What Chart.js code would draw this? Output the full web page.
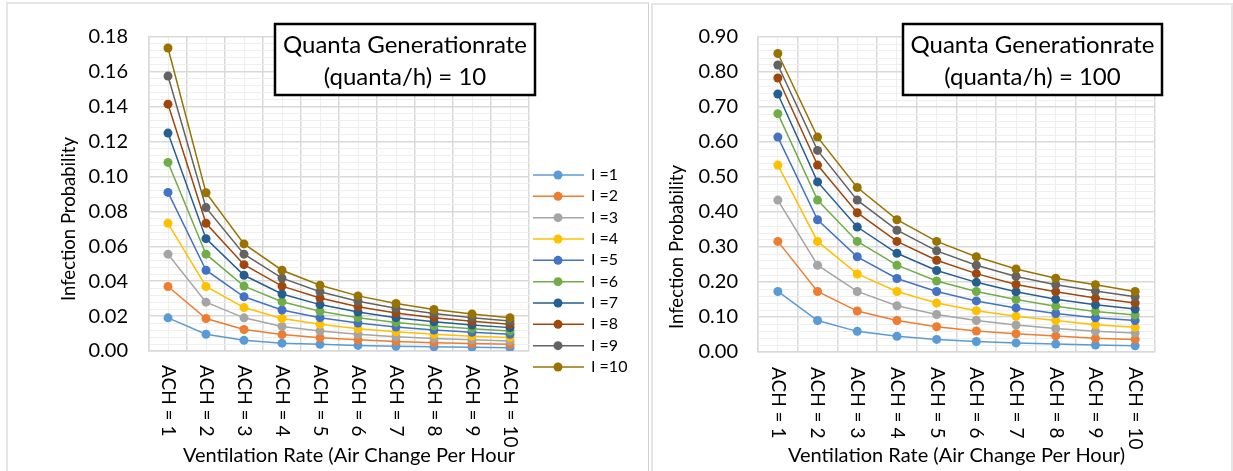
<!DOCTYPE html>
<html>
<head>
<meta charset="utf-8">
<script src="https://cdn.jsdelivr.net/npm/chart.js@4.4.1/dist/chart.umd.min.js"></script>
<style>
  body { margin: 0; background: #fff; width: 1233px; height: 471px; overflow: hidden; position: relative; }
  .panel { position: absolute; box-sizing: border-box; border: 2px solid #e6e6e6; }
  #panel-low { left: 6px; top: 2px; width: 643px; height: 490px; border-right: 1px solid #d0d0d0; }
  #panel-high { left: 651px; top: 3px; width: 582px; height: 490px; }
  canvas { position: absolute; }
  #chart-low { left: 8px; top: 4px; }
  #chart-high { left: 653px; top: 5px; }
</style>
</head>
<body>
<div class="panel" id="panel-low"></div>
<div class="panel" id="panel-high"></div>
<canvas id="chart-low" width="640" height="467"></canvas>
<canvas id="chart-high" width="578" height="466"></canvas>
<script>
const FONT = 'Lato, "Liberation Sans", sans-serif';
const TEXT = '#000';

const ventilationLabels = ['ACH = 1', 'ACH = 2', 'ACH = 3', 'ACH = 4', 'ACH = 5',
  'ACH = 6', 'ACH = 7', 'ACH = 8', 'ACH = 9', 'ACH = 10'];
const seriesNames = ['I =1', 'I =2', 'I =3', 'I =4', 'I =5', 'I =6', 'I =7', 'I =8', 'I =9', 'I =10'];
const seriesColors = ['#5b9bd5', '#ed7d31', '#a5a5a5', '#ffc000', '#4472c4',
  '#70ad47', '#255e91', '#9e480e', '#636363', '#997300'];

// quanta generation rate = 10
const q10I1 = [0.0190, 0.0096, 0.0061, 0.0045, 0.0038, 0.0032, 0.0027, 0.0024, 0.0021, 0.0019];
const q10I2 = [0.0370, 0.0186, 0.0123, 0.0094, 0.0076, 0.0064, 0.0055, 0.0048, 0.0043, 0.0038];
const q10I3 = [0.0555, 0.0280, 0.0190, 0.0141, 0.0115, 0.0096, 0.0082, 0.0072, 0.0064, 0.0058];
const q10I4 = [0.0732, 0.0370, 0.0249, 0.0186, 0.0153, 0.0128, 0.0110, 0.0096, 0.0085, 0.0077];
const q10I5 = [0.0909, 0.0463, 0.0311, 0.0235, 0.0191, 0.0160, 0.0137, 0.0120, 0.0107, 0.0096];
const q10I6 = [0.1081, 0.0555, 0.0372, 0.0282, 0.0228, 0.0191, 0.0164, 0.0144, 0.0128, 0.0115];
const q10I7 = [0.1249, 0.0644, 0.0434, 0.0327, 0.0266, 0.0223, 0.0191, 0.0167, 0.0149, 0.0134];
const q10I8 = [0.1415, 0.0732, 0.0495, 0.0372, 0.0304, 0.0254, 0.0218, 0.0191, 0.0170, 0.0153];
const q10I9 = [0.1576, 0.0822, 0.0555, 0.0418, 0.0340, 0.0285, 0.0245, 0.0215, 0.0191, 0.0172];
const q10I10 = [0.1737, 0.0907, 0.0614, 0.0463, 0.0377, 0.0316, 0.0272, 0.0238, 0.0212, 0.0191];

// quanta generation rate = 100
const q100I1 = [0.173, 0.090, 0.059, 0.045, 0.036, 0.030, 0.026, 0.023, 0.020, 0.018];
const q100I2 = [0.316, 0.173, 0.117, 0.090, 0.072, 0.060, 0.052, 0.046, 0.039, 0.036];
const q100I3 = [0.434, 0.248, 0.173, 0.132, 0.107, 0.090, 0.077, 0.067, 0.059, 0.054];
const q100I4 = [0.534, 0.316, 0.223, 0.173, 0.140, 0.118, 0.102, 0.090, 0.078, 0.071];
const q100I5 = [0.614, 0.378, 0.272, 0.210, 0.173, 0.146, 0.126, 0.110, 0.098, 0.090];
const q100I6 = [0.681, 0.434, 0.316, 0.248, 0.203, 0.173, 0.150, 0.131, 0.116, 0.106];
const q100I7 = [0.737, 0.486, 0.357, 0.282, 0.233, 0.199, 0.172, 0.151, 0.135, 0.123];
const q100I8 = [0.783, 0.534, 0.398, 0.316, 0.262, 0.224, 0.193, 0.172, 0.154, 0.140];
const q100I9 = [0.820, 0.576, 0.434, 0.348, 0.289, 0.248, 0.216, 0.192, 0.174, 0.158];
const q100I10 = [0.853, 0.614, 0.470, 0.378, 0.316, 0.272, 0.237, 0.211, 0.192, 0.173];

const q10Ticks = [0, 0.02, 0.04, 0.06, 0.08, 0.10, 0.12, 0.14, 0.16, 0.18];
const q100Ticks = [0, 0.1, 0.2, 0.3, 0.4, 0.5, 0.6, 0.7, 0.8, 0.9];

const MAJOR_GRID = '#d9d9d9';
const MINOR_GRID = '#eeeeee';

// draws the Excel-style extras: rotated category labels, titles, note box, legend
const overlay = {
  id: 'overlay',
  afterDraw(chart) {
    const cfg = chart.options.plugins.overlay;
    const { ctx, chartArea, scales } = chart;
    ctx.save();
    ctx.fillStyle = TEXT;

    ctx.font = `19px ${FONT}`;
    ctx.textAlign = 'left';
    ctx.textBaseline = 'middle';
    ventilationLabels.forEach((label, i) => {
      ctx.save();
      ctx.translate(scales.x.getPixelForValue(i), chartArea.bottom + cfg.labelGap);
      ctx.rotate(Math.PI / 2);
      ctx.fillText(label, 0, 0);
      ctx.restore();
    });

    ctx.font = `20px ${FONT}`;
    ctx.textAlign = 'center';
    ctx.fillText(cfg.xTitle, (chartArea.left + chartArea.right) / 2 + cfg.xTitleShift, cfg.xTitleY);

    ctx.font = `18.5px ${FONT}`;
    ctx.save();
    ctx.translate(cfg.yTitleX, cfg.yTitleY);
    ctx.rotate(-Math.PI / 2);
    ctx.fillText('Infection Probability', 0, 0);
    ctx.restore();

    const b = cfg.box;
    ctx.fillStyle = '#fff';
    ctx.fillRect(b.x, b.y, b.w, b.h);
    ctx.strokeStyle = '#000';
    ctx.lineWidth = 2.5;
    ctx.strokeRect(b.x, b.y, b.w, b.h);
    ctx.fillStyle = '#000';
    ctx.font = `24px ${FONT}`;
    ctx.fillText('Quanta Generationrate', b.x + b.w / 2, b.y + 21);
    ctx.fillText(cfg.boxLine2, b.x + b.w / 2, b.y + 53);

    if (cfg.legend) {
      const lg = cfg.legend;
      ctx.font = `16px ${FONT}`;
      ctx.textAlign = 'left';
      chart.data.datasets.forEach((ds, i) => {
        const y = lg.top + i * lg.step;
        ctx.strokeStyle = ds.borderColor;
        ctx.lineWidth = 1.5;
        ctx.beginPath();
        ctx.moveTo(lg.x, y);
        ctx.lineTo(lg.x + 51, y);
        ctx.stroke();
        ctx.fillStyle = ds.borderColor;
        ctx.beginPath();
        ctx.arc(lg.x + 25, y, 4.5, 0, Math.PI * 2);
        ctx.fill();
        ctx.fillStyle = TEXT;
        ctx.fillText(ds.label, lg.x + 58, y);
      });
    }
    ctx.restore();
  }
};

function buildChart(canvasId, seriesValues, majorTicks, geo) {
  const minorStep = (majorTicks[1] - majorTicks[0]) / 5;
  const datasets = seriesValues.map((values, i) => ({
    label: seriesNames[i],
    data: values,
    borderColor: seriesColors[i],
    backgroundColor: seriesColors[i],
    pointBackgroundColor: seriesColors[i],
    pointBorderWidth: 0,
    pointRadius: 4.5,
    borderWidth: 1.5,
    order: seriesValues.length - i
  }));

  return new Chart(document.getElementById(canvasId), {
    type: 'line',
    data: { labels: ventilationLabels, datasets },
    options: {
      responsive: false,
      animation: false,
      layout: { padding: { top: geo.top, right: geo.right, left: 0, bottom: 0 } },
      plugins: {
        legend: { display: false },
        tooltip: { enabled: false },
        overlay: geo.overlay
      },
      scales: {
        x: {
          type: 'category',
          offset: true,
          ticks: { display: false },
          grid: { offset: true, color: MAJOR_GRID, lineWidth: 1.5, drawTicks: false },
          border: { color: MAJOR_GRID, width: 1.5 },
          afterFit: (s) => { s.height = geo.xHeight; }
        },
        xMinor: {
          type: 'category',
          position: 'bottom',
          offset: true,
          ticks: { display: false },
          grid: { offset: false, color: MINOR_GRID, lineWidth: 1, drawTicks: false },
          border: { display: false },
          afterFit: (s) => { s.height = 0; }
        },
        y: {
          min: majorTicks[0],
          max: majorTicks[majorTicks.length - 1],
          afterBuildTicks: (s) => {
            const ticks = [];
            for (let m = 0; m < majorTicks.length; m++) {
              ticks.push({ value: majorTicks[m], major: true });
              if (m < majorTicks.length - 1) {
                for (let k = 1; k < 5; k++) ticks.push({ value: majorTicks[m] + k * minorStep });
              }
            }
            s.ticks = ticks;
          },
          ticks: {
            autoSkip: false,
            padding: geo.labelPad,
            color: TEXT,
            font: { family: FONT, size: 20 },
            callback: (value, index) => (index % 5 === 0 ? value.toFixed(2) : '')
          },
          grid: {
            drawTicks: false,
            color: (c) => (c.index % 5 === 0 ? MAJOR_GRID : MINOR_GRID),
            lineWidth: (c) => (c.index % 5 === 0 ? 1.5 : 1)
          },
          border: { color: MAJOR_GRID, width: 1.5 },
          afterFit: (s) => { s.width = geo.yWidth; }
        }
      }
    },
    plugins: [overlay]
  });
}

buildChart('chart-low',
  [q10I1, q10I2, q10I3, q10I4, q10I5, q10I6, q10I7, q10I8, q10I9, q10I10],
  q10Ticks,
  {
    top: 15, right: 119, yWidth: 141, xHeight: 120, labelPad: 21,
    overlay: {
      labelGap: 14,
      xTitle: 'Ventilation Rate (Air Change Per Hour',
      xTitleShift: 10, xTitleY: 452,
      yTitleX: 61, yTitleY: 215,
      box: { x: 267, y: 20, w: 260, h: 71 },
      boxLine2: '(quanta/h) = 10',
      legend: { x: 525, top: 171, step: 21.33 }
    }
  });

buildChart('chart-high',
  [q100I1, q100I2, q100I3, q100I4, q100I5, q100I6, q100I7, q100I8, q100I9, q100I10],
  q100Ticks,
  {
    top: 12, right: 76, yWidth: 105, xHeight: 119, labelPad: 20,
    overlay: {
      labelGap: 15,
      xTitle: 'Ventilation Rate (Air Change Per Hour)',
      xTitleShift: 0, xTitleY: 451,
      yTitleX: 24, yTitleY: 242,
      box: { x: 250, y: 19, w: 259, h: 71 },
      boxLine2: '(quanta/h) = 100',
      legend: null
    }
  });
</script>
</body>
</html>
